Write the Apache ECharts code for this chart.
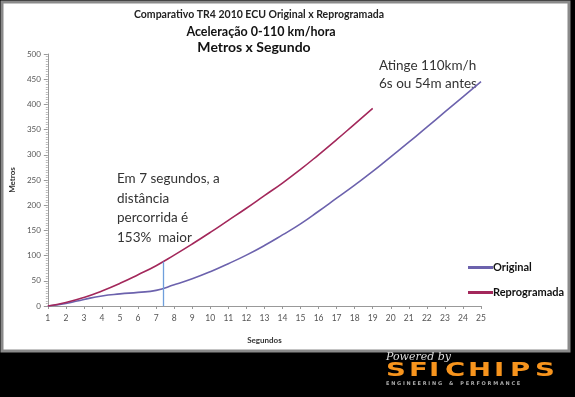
<!DOCTYPE html>
<html><head><meta charset="utf-8">
<script src="https://cdn.jsdelivr.net/npm/echarts@6/dist/echarts.min.js"></script>
<style>html,body{margin:0;padding:0;background:#000}#c{width:575px;height:397px}</style>
</head><body><div id="c"></div>
<script>
const seconds = [1,2,3,4,5,6,7,8,9,10,11,12,13,14,15,16,17,18,19,20,21,22,23,24,25];
const original = [0,5,13,20,24,27,31,42,54,68,84,101,120,141,163,188,214,240,267,296,325,355,385,415,445];
const reprogramada = [0,7,17,30,45,62,80,101,123,146,170,194,219,244,271,300,330,361,392];
const markerX = 7.37;
const markerY = 88;
const titleLines = ['Comparativo TR4 2010 ECU Original x Reprogramada','Aceleração 0-110 km/hora','Metros x Segundo'];
const note1 = ['Em 7 segundos, a','distância','percorrida é','153%  maior'];
const note2 = ['Atinge 110km/h','6s ou 54m antes'];

const F = 'Lato, "Open Sans", sans-serif';
const chart = echarts.init(document.getElementById('c'));
const pair = (xs, ys) => ys.map((v,i)=>[xs[i], v]);

const graphics = [
  {type:'rect', z:-10, shape:{x:2,y:2,width:567,height:349}, style:{fill:'#fff', stroke:'#8a8a8a', lineWidth:3}},
  {type:'text', x:259, y:15, style:{text:titleLines[0], font:'bold 10.5px '+F, fill:'#222', align:'center', verticalAlign:'middle'}},
  {type:'text', x:261, y:32, style:{text:titleLines[1], font:'bold 12.5px '+F, fill:'#111', align:'center', verticalAlign:'middle'}},
  {type:'text', x:254, y:47, style:{text:titleLines[2], font:'bold 14px '+F, fill:'#111', align:'center', verticalAlign:'middle'}},
  {type:'text', x:117, y:169, style:{text:note1.join('\n'), font:'13.5px '+F, fill:'#333', lineHeight:19.5}},
  {type:'text', x:379, y:57, style:{text:note2.join('\n'), font:'13.5px '+F, fill:'#333', lineHeight:18}},
  {type:'text', x:386, y:352, style:{text:'Powered by', font:'italic 11px "DejaVu Serif", serif', fill:'#ddd'}}
];
const logo = 'SFICHIPS'.split('');
const lx = [386,409,429,445,468,494,510,535];
logo.forEach((ch,i)=>{
  graphics.push({type:'text', x:lx[i], y:362, scaleX:1.45, style:{text:ch, font:'bold 19px "DejaVu Sans", sans-serif', fill:'#f7941d'}});
});
graphics.push({type:'text', x:386, y:381, style:{text:'E N G I N E E R I N G    &    P E R F O R M A N C E', font:'bold 5px "DejaVu Sans", sans-serif', fill:'#aaa'}});

chart.setOption({
  backgroundColor:'#000',
  animation:false,
  graphic: graphics,
  grid:{left:44, right:94, top:54, bottom:91},
  legend:{
    orient:'vertical', left:463, top:257, itemWidth:25, itemHeight:3, itemGap:14, icon:'rect',
    textStyle:{fontFamily:F, fontWeight:'bold', fontSize:11, color:'#111', padding:[0,0,0,-5]},
    data:['Original','Reprogramada']
  },
  xAxis:{
    type:'value', min:1, max:25, interval:1,
    name:'Segundos', nameLocation:'middle', nameGap:30,
    nameTextStyle:{fontFamily:F, fontWeight:'bold', fontSize:8, color:'#333'},
    axisLine:{lineStyle:{color:'#999'}},
    axisTick:{show:true, length:3, lineStyle:{color:'#999'}},
    axisLabel:{fontFamily:F, fontSize:8.5, color:'#555', margin:8},
    splitLine:{show:false}
  },
  yAxis:{
    type:'value', min:0, max:500, interval:50,
    name:'Metros', nameLocation:'middle', nameGap:30, nameRotate:90,
    nameTextStyle:{fontFamily:F, fontWeight:'bold', fontSize:8, color:'#333'},
    axisLine:{show:true, lineStyle:{color:'#999'}},
    axisTick:{show:true, length:4, lineStyle:{color:'#999'}},
    minorTick:{show:true, splitNumber:10, length:2, lineStyle:{color:'#bbb'}},
    axisLabel:{fontFamily:F, fontSize:8, color:'#555', margin:7},
    splitLine:{show:false}
  },
  series:[
    {name:'Original', type:'line', smooth:0.5, showSymbol:false, symbol:'none',
     lineStyle:{color:'#6c62ad', width:1.6}, itemStyle:{color:'#6c62ad'},
     data:pair(seconds, original),
     markLine:{silent:true, symbol:'none', label:{show:false},
       lineStyle:{color:'#6f9fdc', width:1.3, type:'solid'},
       data:[[{coord:[markerX,0]},{coord:[markerX,markerY]}]]}
    },
    {name:'Reprogramada', type:'line', smooth:0.5, showSymbol:false, symbol:'none',
     lineStyle:{color:'#a3285b', width:1.6}, itemStyle:{color:'#a3285b'},
     data:pair(seconds, reprogramada)}
  ]
});
</script></body></html>
